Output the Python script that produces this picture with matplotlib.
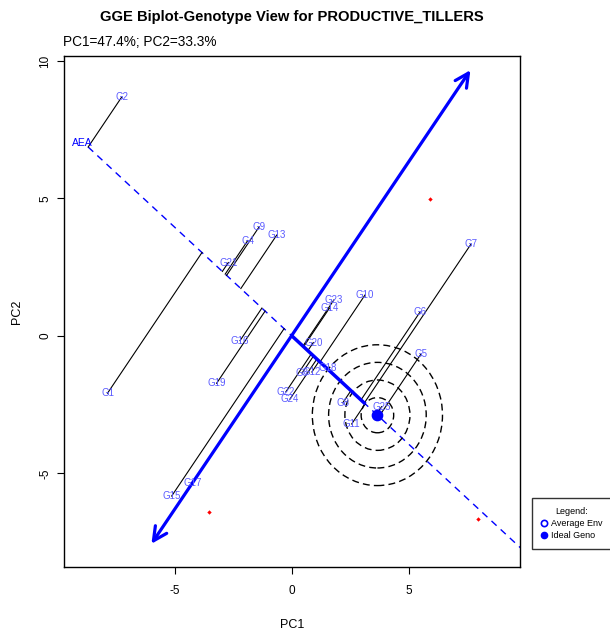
import numpy as np
import matplotlib
matplotlib.use("Agg")
import matplotlib.pyplot as plt
from matplotlib.patches import Ellipse, FancyArrowPatch
from matplotlib.lines import Line2D

plt.rcParams['font.family'] = ['Liberation Sans', 'DejaVu Sans']
plt.rcParams['axes.unicode_minus'] = False

# genotype scores (PC1, PC2)
genotypes = ['G1', 'G2', 'G3', 'G4', 'G5', 'G6', 'G7', 'G8', 'G9', 'G10',
             'G11', 'G12', 'G13', 'G14', 'G15', 'G16', 'G17', 'G18', 'G19', 'G20',
             'G21', 'G22', 'G23', 'G24', 'G25']
pc1 = [-7.88, -7.28, 0.43, -1.89, 5.50, 5.47, 7.64, 2.17, -1.40, 3.12,
       2.55, 0.85, -0.65, 1.60, -5.14, -2.22, -4.24, 1.53, -3.22, 0.91,
       -2.72, -0.26, 1.79, -0.09, 3.83]
pc2 = [-2.08, 8.68, -1.35, 3.47, -0.67, 0.87, 3.33, -2.43, 3.97, 1.49,
       -3.20, -1.31, 3.67, 1.01, -5.82, -0.17, -5.33, -1.15, -1.72, -0.24,
       2.67, -2.03, 1.31, -2.30, -2.57]

# environment markers (red) and ideal genotype
env_pc1 = [5.90, -3.55, 7.94]
env_pc2 = [4.98, -6.40, -6.65]
ideal = (3.65, -2.88)
aea_label = (-8.97, 7.03)
arrow_lo = (-6.07, -7.64)
arrow_hi = (7.69, 9.75)
thick_len = 4.0

fig = plt.figure(figsize=(6.10, 6.35), dpi=100)
ax = fig.add_axes([0.1049, 0.1071, 0.7475, 0.8047])
ax.set_xlim(-9.74, 9.74)
ax.set_ylim(-8.40, 10.18)

# abscissa direction through origin and ideal genotype
u = np.array(ideal) / np.hypot(*ideal)
g = np.column_stack([pc1, pc2])
t = g @ u
proj = np.outer(t, u)

# dashed abscissa line
start = t.min() * u
end = 20 * u
ax.plot([start[0], end[0]], [start[1], end[1]], color='blue', lw=1,
        ls=(0, (5, 4)), zorder=2)

# projection lines
for (x, y), (px, py) in zip(g, proj):
    ax.plot([x, px], [y, py], color='black', lw=0.8, zorder=3)

# concentric rings around ideal genotype
for k in range(1, 5):
    ax.add_patch(Ellipse(ideal, 2 * 0.695 * k, 2 * 0.64 * k, fill=False,
                         ec='black', lw=1, ls=(0, (5, 3)), zorder=2))

# thick blue segment from origin along abscissa
tp = thick_len * u
ax.plot([0, tp[0]], [0, tp[1]], color='blue', lw=2.5, zorder=4,
        solid_capstyle='butt')

# double arrow (ordinate)
ax.add_patch(FancyArrowPatch(arrow_lo, arrow_hi,
                             arrowstyle='<->,head_length=0.7,head_width=0.35',
                             mutation_scale=14, color='blue', lw=2.3, zorder=4))

# genotype labels
for name, x, y in zip(genotypes, pc1, pc2):
    ax.text(x, y, name, color='#5a5aff', fontsize=7, ha='center', va='center',
            zorder=5)

ax.text(*aea_label, 'AEA', color='blue', fontsize=7.5, ha='center',
        va='center', zorder=5)

ax.scatter(env_pc1, env_pc2, s=5, marker='D', color='red', lw=0, zorder=5)
ax.scatter([ideal[0]], [ideal[1]], s=55, color='blue', zorder=6)

ax.set_xticks([-5, 0, 5])
ax.set_yticks([-5, 0, 5, 10])
ax.tick_params(labelsize=8.5, length=5, direction='out')
ax.tick_params(axis='x', pad=8)
ax.tick_params(axis='y', pad=4)
for lab in ax.get_yticklabels():
    lab.set_rotation(90)
    lab.set_va('center')
for s in ax.spines.values():
    s.set_linewidth(1)
ax.set_xlabel('PC1', fontsize=9, labelpad=16)
ax.set_ylabel('PC2', fontsize=9, labelpad=12)

fig.text(0.479, 0.973, 'GGE Biplot-Genotype View for PRODUCTIVE_TILLERS',
         fontsize=10.6, fontweight='bold', ha='center', va='center')
fig.text(0.103, 0.934, 'PC1=47.4%; PC2=33.3%', fontsize=9.8, ha='left',
         va='center')

# legend box outside plot
handles = [Line2D([], [], marker='o', ls='', mfc='white', mec='blue',
                  mew=1.2, ms=4.5, label='Average Env'),
           Line2D([], [], marker='o', ls='', color='blue', ms=4.5,
                  label='Ideal Geno')]
leg = fig.legend(handles=handles, title='Legend:', loc='upper left',
                 bbox_to_anchor=(0.872, 0.216), fontsize=6.5, title_fontsize=6.5,
                 frameon=True, fancybox=False, edgecolor='black',
                 handlelength=0.6, handletextpad=0.5, borderpad=1.0,
                 labelspacing=0.35, borderaxespad=0)
leg.get_frame().set_linewidth(1)

fig.savefig('out.png', dpi=100)
